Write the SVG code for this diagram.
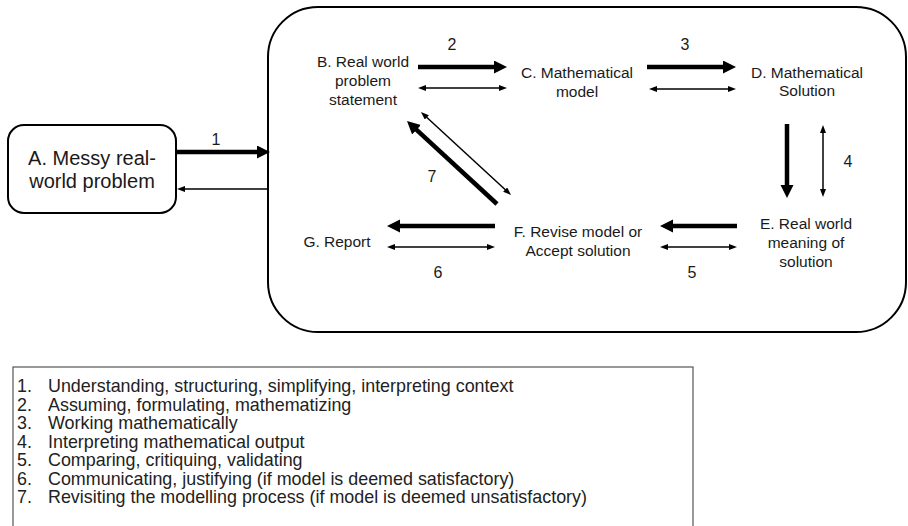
<svg xmlns="http://www.w3.org/2000/svg" width="908" height="526" viewBox="0 0 908 526">
<style>
  .box { fill: #fff; stroke: #000; stroke-width: 2; }
  .lbl { font-family: "Liberation Sans", Arial, sans-serif; font-size: 15.5px; fill: #1a1a1a; text-anchor: middle; }
  .lblA { font-family: "Liberation Sans", Arial, sans-serif; font-size: 20px; fill: #1a1a1a; text-anchor: middle; }
  .num { font-family: "Liberation Sans", Arial, sans-serif; font-size: 16px; fill: #1a1a1a; text-anchor: middle; }
  .leg { font-family: "Liberation Sans", Arial, sans-serif; font-size: 17.9px; fill: #222; }
  .thick { stroke: #000; stroke-width: 4.5; fill: none; marker-end: url(#headBig); }
  .thin { stroke: #000; stroke-width: 1.5; fill: none; marker-end: url(#headSmall); }
  .dbl { stroke: #000; stroke-width: 1.5; fill: none; marker-start: url(#headSmall); marker-end: url(#headSmall); }
</style>
<defs>
  <marker id="headBig" markerUnits="userSpaceOnUse" markerWidth="14" markerHeight="14" refX="1" refY="6.5" orient="auto">
    <path d="M0,0 L13,6.5 L0,13 z" fill="#000"/>
  </marker>
  <marker id="headSmall" markerUnits="userSpaceOnUse" markerWidth="9" markerHeight="7" refX="1" refY="3" orient="auto-start-reverse">
    <path d="M0,0 L8,3 L0,6 z" fill="#000"/>
  </marker>
</defs>
<rect width="908" height="526" fill="#fff"/>

<g id="cycle-frame">
  <rect class="box" x="268" y="7" width="638" height="325" rx="50" ry="50"/>
</g>

<g id="nodeA">
  <rect class="box" x="8" y="125" width="168" height="88" rx="16" ry="16"/>
  <text class="lblA" x="92" y="165">A. Messy real-</text>
  <text class="lblA" x="92" y="188">world problem</text>
</g>
<g id="nodeB">
  <text class="lbl" x="363" y="67">B. Real world</text>
  <text class="lbl" x="363" y="86">problem</text>
  <text class="lbl" x="363" y="105">statement</text>
</g>
<g id="nodeC">
  <text class="lbl" x="577" y="78">C. Mathematical</text>
  <text class="lbl" x="577" y="97">model</text>
</g>
<g id="nodeD">
  <text class="lbl" x="807" y="78">D. Mathematical</text>
  <text class="lbl" x="807" y="96">Solution</text>
</g>
<g id="nodeE">
  <text class="lbl" x="806" y="229">E. Real world</text>
  <text class="lbl" x="806" y="248">meaning of</text>
  <text class="lbl" x="806" y="267">solution</text>
</g>
<g id="nodeF">
  <text class="lbl" x="578" y="237">F. Revise model or</text>
  <text class="lbl" x="578" y="256">Accept solution</text>
</g>
<g id="nodeG">
  <text class="lbl" x="337" y="247">G. Report</text>
</g>

<g id="connectors">
  <line class="thick" x1="176" y1="152" x2="258" y2="152"/>
  <line class="thin" x1="268" y1="189" x2="184" y2="189"/>
  <line class="thick" x1="418" y1="67" x2="495" y2="67"/>
  <line class="dbl" x1="425" y1="88" x2="500" y2="88"/>
  <line class="thick" x1="647" y1="67" x2="724" y2="67"/>
  <line class="dbl" x1="656" y1="89" x2="729" y2="89"/>
  <line class="thick" x1="787" y1="124" x2="787" y2="186"/>
  <line class="dbl" x1="823" y1="132" x2="823" y2="190"/>
  <line class="thick" x1="737" y1="226" x2="672" y2="226"/>
  <line class="dbl" x1="667" y1="247" x2="730" y2="247"/>
  <line class="thick" x1="495" y1="226" x2="399" y2="226"/>
  <line class="dbl" x1="394" y1="247" x2="488" y2="247"/>
  <line class="thick" x1="497" y1="204" x2="415.8" y2="129.1"/>
  <line class="dbl" x1="426.1" y1="116.7" x2="505.9" y2="190.3"/>
  <text class="num" x="216" y="145">1</text>
  <text class="num" x="452" y="50">2</text>
  <text class="num" x="685" y="50">3</text>
  <text class="num" x="848" y="167">4</text>
  <text class="num" x="692" y="278">5</text>
  <text class="num" x="438" y="278">6</text>
  <text class="num" x="432" y="182">7</text>
</g>

<g id="legend">
  <rect x="13" y="367" width="680" height="170" fill="none" stroke="#555" stroke-width="1.2"/>
  <text class="leg" x="17" y="392">1.</text><text class="leg" x="48" y="392">Understanding, structuring, simplifying, interpreting context</text>
  <text class="leg" x="17" y="410.5">2.</text><text class="leg" x="48" y="410.5">Assuming, formulating, mathematizing</text>
  <text class="leg" x="17" y="429">3.</text><text class="leg" x="48" y="429">Working mathematically</text>
  <text class="leg" x="17" y="447.5">4.</text><text class="leg" x="48" y="447.5">Interpreting mathematical output</text>
  <text class="leg" x="17" y="466">5.</text><text class="leg" x="48" y="466">Comparing, critiquing, validating</text>
  <text class="leg" x="17" y="484.5">6.</text><text class="leg" x="48" y="484.5">Communicating, justifying (if model is deemed satisfactory)</text>
  <text class="leg" x="17" y="503">7.</text><text class="leg" x="48" y="503">Revisiting the modelling process (if model is deemed unsatisfactory)</text>
</g>
</svg>
